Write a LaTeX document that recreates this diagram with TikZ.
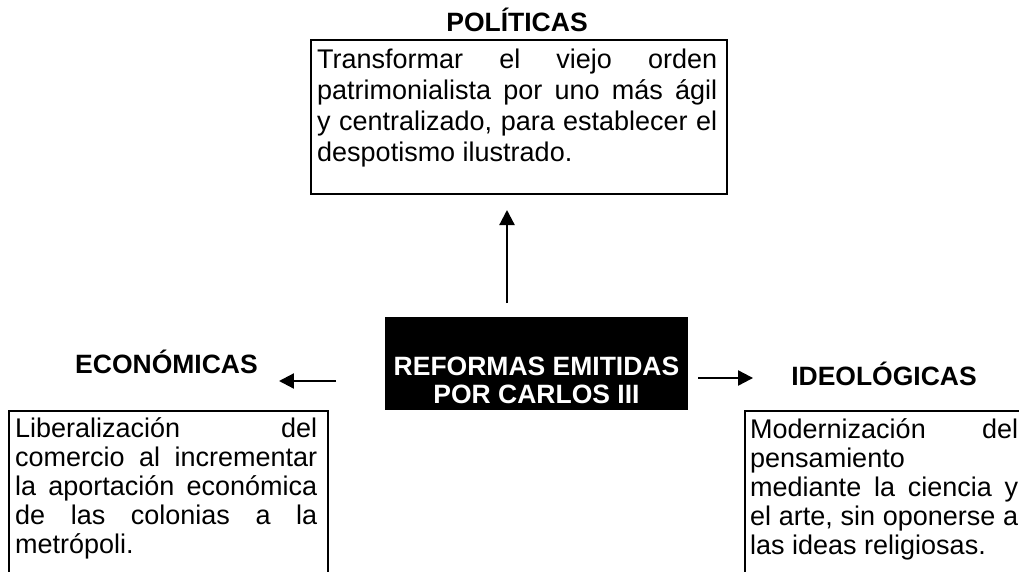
\documentclass[tikz,border=0pt]{standalone}
\usepackage{fontspec}
\setmainfont{Liberation Sans}
\usepackage{tikz}
\usetikzlibrary{arrows.meta, positioning, calc}

\tikzset{
    frame/.style={draw, line width=2pt, inner sep=0pt, anchor=north west},
    bodytext/.style={inner sep=0pt, anchor=base west, align=justify,
        font=\fontsize{27}{31}\selectfont},
    heading/.style={inner sep=0pt, anchor=base, font=\fontsize{26.5}{31}\selectfont\bfseries},
    arr/.style={line width=2.2pt, -{Triangle[length=15pt, width=15pt]}}
}

\begin{document}
\begin{tikzpicture}[x=1pt, y=-1pt]

    % Fix the size of the picture
    \useasboundingbox (0,0) rectangle (1019,572);

    % Draw the central box
    \node[fill=black, inner sep=0pt, minimum width=303pt, minimum height=93pt, anchor=north west] (ctr) at (385,317) {};
    \node[heading, text=white, align=center, anchor=base,
        font=\fontsize{26.5}{28}\selectfont\bfseries] (ctrtxt) at (536.5,403) {REFORMAS EMITIDAS\\POR CARLOS III};

    % Draw the upper box
    \node[heading] (pol) at (517,32) {POLÍTICAS};
    \node[frame, minimum width=416pt, minimum height=154pt] (polbox) at (310,39) {};
    \node[bodytext, text width=400pt] (poltxt) at (317,69)
        {Transformar el viejo orden\linebreak patrimonialista por uno más ágil\linebreak y centralizado, para establecer el\linebreak despotismo ilustrado.};

    % Draw the left box
    \node[heading] (eco) at (166.5,373) {ECONÓMICAS};
    \node[frame, minimum width=319pt, minimum height=250pt] (ecobox) at (8,410) {};
    \node[bodytext, text width=302pt, font=\fontsize{27}{29}\selectfont] (ecotxt) at (15,437)
        {Liberalización del\linebreak comercio al incrementar\linebreak la aportación económica\linebreak de las colonias a la\linebreak metrópoli.};

    % Draw the right box
    \node[heading] (ideo) at (884,385) {IDEOLÓGICAS};
    \node[frame, minimum width=320pt, minimum height=250pt] (ideobox) at (744,410) {};
    \node[bodytext, text width=268pt, font=\fontsize{27}{29}\selectfont] (ideotxt) at (750,438)
        {Modernización del\linebreak pensamiento\newline mediante la ciencia y\linebreak el arte, sin oponerse a\linebreak las ideas religiosas.};

    % Draw the arrows
    \draw[arr, shorten <=14pt, shorten >=15pt] (ctr.north -| 507,0) -- (polbox.south -| 507,0);
    \draw[arr, shorten <=49pt, shorten >=21pt] (ctr.west |- 0,381) -- (eco.east |- 0,381);
    \draw[arr, shorten <=10pt, shorten >=38pt] (ctr.east |- 0,378) -- (ideo.west |- 0,378);

\end{tikzpicture}
\end{document}
